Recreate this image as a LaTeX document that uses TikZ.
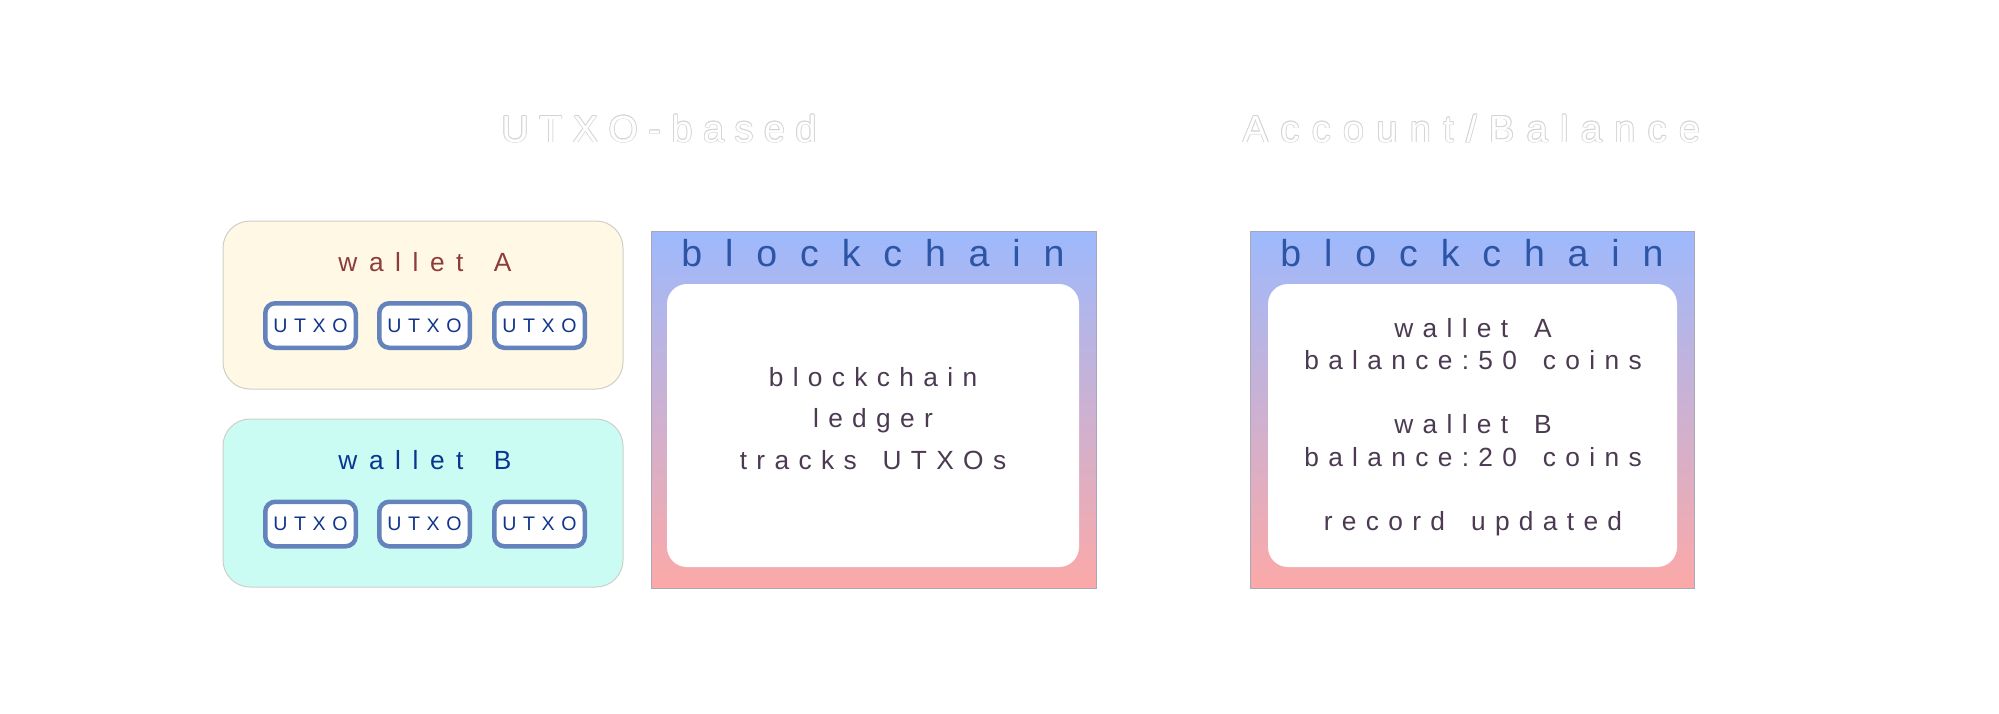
\documentclass[tikz,border=0pt]{standalone}
\usepackage{fontspec}
\setmainfont{Liberation Sans}
\newfontfamily\titleAfont[LetterSpace=28]{Liberation Sans}
\newfontfamily\titleBfont[LetterSpace=33]{Liberation Sans}
\newfontfamily\headfont[LetterSpace=61]{Liberation Sans}
\newfontfamily\walletfont[LetterSpace=44]{Liberation Sans}
\newfontfamily\utxofont[LetterSpace=34]{Liberation Sans}
\newfontfamily\innerfont[LetterSpace=35.5]{Liberation Sans}
\newcommand\wsp[1]{\ \kern#1em\relax}
\definecolor{headblue}{HTML}{2D55A5}
\definecolor{innertxt}{HTML}{4B3A52}
\definecolor{utxoline}{HTML}{6483BD}
\definecolor{utxotxt}{HTML}{12358C}
\definecolor{walAtxt}{HTML}{8E3B3B}
\definecolor{walBtxt}{HTML}{0A3592}
\definecolor{walAfill}{HTML}{FFF8E4}
\definecolor{walBfill}{HTML}{CAFCF4}
\definecolor{gradtop}{HTML}{9DB9FD}
\definecolor{gradbot}{HTML}{FCA9A7}
\definecolor{chainline}{HTML}{A8A8B8}
\definecolor{walline}{HTML}{CFCFC8}
\definecolor{titleline}{HTML}{D4D4D4}
\begin{document}
\begin{tikzpicture}[x=1pt,y=-1pt,
  walletbox/.style={draw=walline, line width=1pt, rounded corners=27pt,
    minimum width=400pt, minimum height=168pt, inner sep=0pt},
  utxobox/.style={draw=utxoline, fill=white, line width=4.5pt, rounded corners=10pt,
    minimum width=90.5pt, minimum height=44.5pt, inner sep=0pt,
    font=\utxofont\fontsize{19.6}{22}\selectfont, text=utxotxt},
  chainbox/.style={draw=chainline, line width=0.8pt, top color=gradtop, bottom color=gradbot,
    minimum width=445pt, minimum height=357pt, inner sep=0pt},
  ledger/.style={fill=white, rounded corners=20pt, minimum height=283pt, inner sep=0pt},
  headtxt/.style={anchor=base, inner sep=0pt, text=headblue, font=\headfont\fontsize{37.5}{40}\selectfont},
  innertext/.style={anchor=base, inner sep=0pt, text=innertxt, font=\innerfont\fontsize{26.3}{30}\selectfont},
  wallettxt/.style={anchor=base, inner sep=0pt, font=\walletfont\fontsize{26.3}{30}\selectfont},
  titletxt/.style={anchor=base, inner sep=0pt}
]
\useasboundingbox[fill=white] (0,0) rectangle (1999,713);

% titles (white letters with a faint grey outline)
\foreach \dx/\dy in {0.8/0,-0.8/0,0/0.8,0/-0.8,0.57/0.57,-0.57/0.57,0.57/-0.57,-0.57/-0.57}{
  \node[titletxt, text=titleline, font=\titleAfont\fontsize{37.7}{40}\selectfont] at (659+\dx,142+\dy) {UTXO-based};
  \node[titletxt, text=titleline, font=\titleBfont\fontsize{37.7}{40}\selectfont] at (1471.5+\dx,142+\dy) {Account/Balance};
}
\node[titletxt, text=white, font=\titleAfont\fontsize{37.7}{40}\selectfont] (t1) at (659,142) {UTXO-based};
\node[titletxt, text=white, font=\titleBfont\fontsize{37.7}{40}\selectfont] (t2) at (1471.5,142) {Account/Balance};

% wallets
\node[walletbox, fill=walAfill] (wa) at (423,305) {};
\node[wallettxt, text=walAtxt] (walabel) at (425,271) {wallet\wsp{.44}A};
\node[utxobox] (ua1) at (310.5,325.5) {UTXO};
\node[utxobox] (ua2) at (424.5,325.5) {UTXO};
\node[utxobox] (ua3) at (539.5,325.5) {UTXO};

\node[walletbox, fill=walBfill] (wb) at (423,503) {};
\node[wallettxt, text=walBtxt] (wblabel) at (425,469) {wallet\wsp{.44}B};
\node[utxobox] (ub1) at (310.5,524) {UTXO};
\node[utxobox] (ub2) at (424.5,524) {UTXO};
\node[utxobox] (ub3) at (539.5,524) {UTXO};

% left blockchain
\node[chainbox] (bc1) at (873.5,409.5) {};
\node[headtxt] (bc1head) at (873,266) {blockchain};
\node[ledger, minimum width=412pt] (led1) at (873,425.5) {};
\node[innertext] (l1a) at (873,386) {blockchain};
\node[innertext] (l1b) at (873,427.5) {ledger};
\node[innertext] (l1c) at (873,469) {tracks\wsp{.355}UTXOs};

% right blockchain
\node[chainbox, minimum width=444pt] (bc2) at (1472,409.5) {};
\node[headtxt] (bc2head) at (1472,266) {blockchain};
\node[ledger, minimum width=409pt] (led2) at (1472.5,425.5) {};
\node[innertext] (r1) at (1473,337) {wallet\wsp{.355}A};
\node[innertext] (r2) at (1473,369) {balance:50\wsp{.355}coins};
\node[innertext] (r3) at (1473,433) {wallet\wsp{.355}B};
\node[innertext] (r4) at (1473,466) {balance:20\wsp{.355}coins};
\node[innertext] (r5) at (1473,530) {record\wsp{.355}updated};
\end{tikzpicture}
\end{document}
